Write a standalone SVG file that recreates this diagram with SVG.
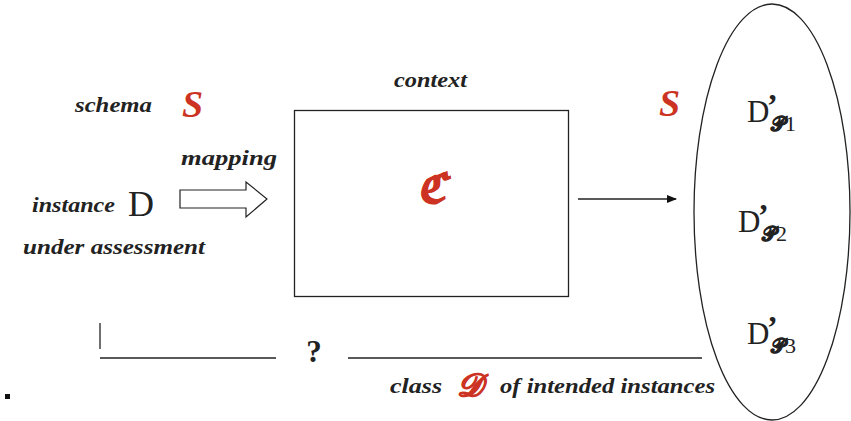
<svg xmlns="http://www.w3.org/2000/svg" width="851" height="421" viewBox="0 0 851 421">
  <style>
    .lbl { font-family: "Liberation Serif", "DejaVu Serif", serif; font-style: italic; font-weight: bold; font-size: 21px; fill: #222; }
    .red { font-family: "Liberation Serif", "DejaVu Serif", serif; font-style: italic; font-weight: bold; fill: #cc3322; }
    .roman { font-family: "Liberation Serif", "DejaVu Serif", serif; fill: #222; }
    .prime { font-family: "Liberation Serif", serif; font-weight: bold; font-size: 32px; fill: #222; }
    .sub { font-family: "DejaVu Serif", serif; font-weight: bold; font-size: 20px; fill: #222; stroke: #222; stroke-width: 0.6; }
    .line { stroke: #222; stroke-width: 1.3; fill: none; }
  </style>
  <defs>
    <marker id="arrow" markerWidth="10" markerHeight="8" refX="9" refY="4" orient="auto" markerUnits="userSpaceOnUse">
      <path d="M0,0 L10,4 L0,8 Z" fill="#111"/>
    </marker>
  </defs>
  <rect width="851" height="421" fill="#fff"/>

  <!-- left side labels -->
  <g id="schema">
    <text class="lbl" x="75" y="112" textLength="77" lengthAdjust="spacingAndGlyphs">schema</text>
    <text class="red" x="182" y="117" font-size="38">S</text>
  </g>
  <g id="instance">
    <text class="lbl" x="32" y="212" textLength="83" lengthAdjust="spacingAndGlyphs">instance</text>
    <text class="roman" x="128" y="216" font-size="36">D</text>
    <text class="lbl" x="23" y="254" textLength="182" lengthAdjust="spacingAndGlyphs">under assessment</text>
  </g>
  <g id="mapping">
    <text class="lbl" x="181" y="165" textLength="96" lengthAdjust="spacingAndGlyphs">mapping</text>
    <path d="M180,190 L246,190 L246,182 L267,199 L246,217 L246,208 L180,208 Z" fill="#fff" stroke="#222" stroke-width="1.2"/>
  </g>

  <!-- context box -->
  <g id="context">
    <text class="lbl" x="394" y="87" textLength="73" lengthAdjust="spacingAndGlyphs">context</text>
    <rect x="294.5" y="110.5" width="274" height="186" class="line"/>
    <text class="red" x="431" y="203" font-size="42" text-anchor="middle" font-style="normal" stroke="#cc3322" stroke-width="1">ℭ</text>
  </g>

  <!-- result set: D'_P1 .. D'_P3 -->
  <g id="results">
    <text class="red" x="659" y="116" font-size="38">S</text>
    <ellipse cx="772" cy="212" rx="78" ry="208" class="line"/>
    <g id="d1">
      <text class="roman" x="747" y="122" font-size="31">D</text>
      <text class="prime" x="767" y="116">’</text>
      <text class="sub" x="771" y="131">𝒫<tspan font-family="Liberation Serif" font-weight="normal" stroke="none" font-size="22">1</tspan></text>
    </g>
    <g id="d2">
      <text class="roman" x="738" y="232" font-size="31">D</text>
      <text class="prime" x="758" y="226">’</text>
      <text class="sub" x="762" y="241">𝒫<tspan font-family="Liberation Serif" font-weight="normal" stroke="none" font-size="22">2</tspan></text>
    </g>
    <g id="d3">
      <text class="roman" x="747" y="344" font-size="31">D</text>
      <text class="prime" x="767" y="338">’</text>
      <text class="sub" x="771" y="353">𝒫<tspan font-family="Liberation Serif" font-weight="normal" stroke="none" font-size="22">3</tspan></text>
    </g>
  </g>

  <!-- bottom bracket -->
  <g id="intended-class">
    <text class="roman" x="314" y="362" font-size="31" font-weight="bold" text-anchor="middle">?</text>
    <text class="lbl" x="390" y="393" textLength="52" lengthAdjust="spacingAndGlyphs">class</text>
    <text class="red" x="457" y="396" font-size="32" stroke="#cc3322" stroke-width="1">𝒟</text>
    <text class="lbl" x="500" y="393" textLength="215" lengthAdjust="spacingAndGlyphs">of intended instances</text>
    <rect x="5" y="394" width="5" height="5" fill="#111"/>
  </g>

  <g id="connectors">
    <line x1="578" y1="199" x2="676" y2="199" class="line" marker-end="url(#arrow)"/>
    <line x1="100" y1="323" x2="100" y2="349" class="line"/>
    <line x1="100" y1="358" x2="276" y2="358" class="line"/>
    <line x1="348" y1="358" x2="702" y2="358" class="line"/>
  </g>
</svg>
